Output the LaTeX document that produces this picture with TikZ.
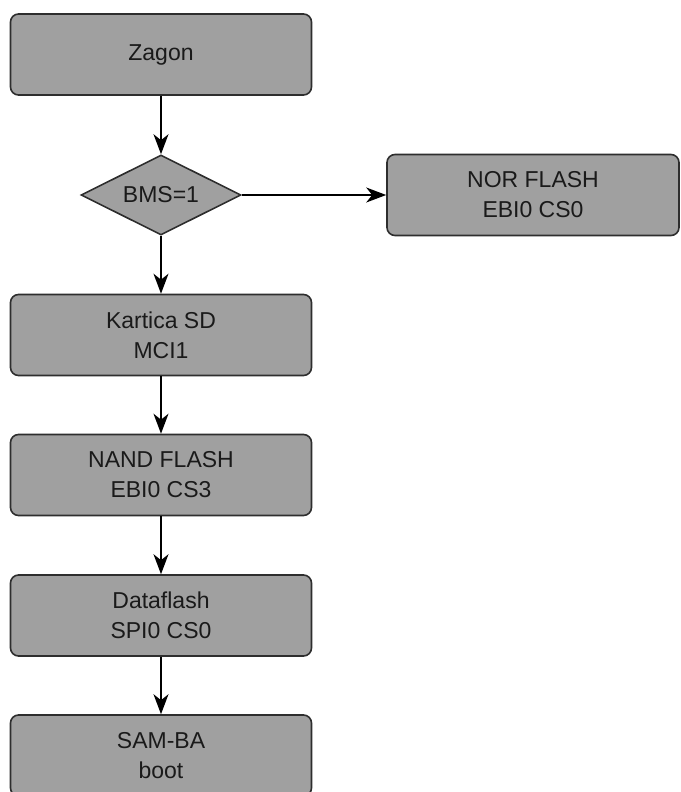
\documentclass[tikz,border=0pt]{standalone}
\usepackage{fontspec}
\setmainfont{Liberation Sans}
\usetikzlibrary{shapes.geometric,arrows.meta}
\definecolor{boxfill}{HTML}{A0A0A0}
\definecolor{boxline}{HTML}{2E2E2E}
\definecolor{ink}{HTML}{1A1A1A}
\tikzset{
  block/.style={draw=boxline, fill=boxfill, line width=1.6pt, rounded corners=8pt,
    minimum width=301pt, minimum height=81pt, inner sep=0pt, align=center,
    text=ink, font=\fontsize{23}{30}\selectfont},
  decision/.style={diamond, draw=boxline, fill=boxfill, line width=1.6pt, aspect=2,
    minimum width=160pt, minimum height=80pt, inner sep=0pt,
    text=ink, font=\fontsize{23}{30}\selectfont},
  flow/.style={draw=black, line width=1.6pt,
    -{Stealth[length=20pt,width=15pt,inset=6pt]}}
}
\begin{document}
\begin{tikzpicture}[x=1pt,y=-1pt]
  \useasboundingbox (0,0) rectangle (680,792);
  \node[block] (zagon) at (161,54.5) {Zagon};
  \node[decision] (bms) at (161,195) {BMS=1};
  \node[block, minimum width=292pt] (nor) at (533,195) {NOR FLASH\\EBI0 CS0};
  \node[block] (sd) at (161,335) {Kartica SD\\MCI1};
  \node[block] (nand) at (161,475) {NAND FLASH\\EBI0 CS3};
  \node[block] (df) at (161,615.5) {Dataflash\\SPI0 CS0};
  \node[block] (samba) at (161,755.5) {SAM-BA\\boot};
  \draw[flow] (zagon) -- (bms);
  \draw[flow] (bms) -- (nor);
  \draw[flow] (bms) -- (sd);
  \draw[flow] (sd) -- (nand);
  \draw[flow] (nand) -- (df);
  \draw[flow] (df) -- (samba);
\end{tikzpicture}
\end{document}
